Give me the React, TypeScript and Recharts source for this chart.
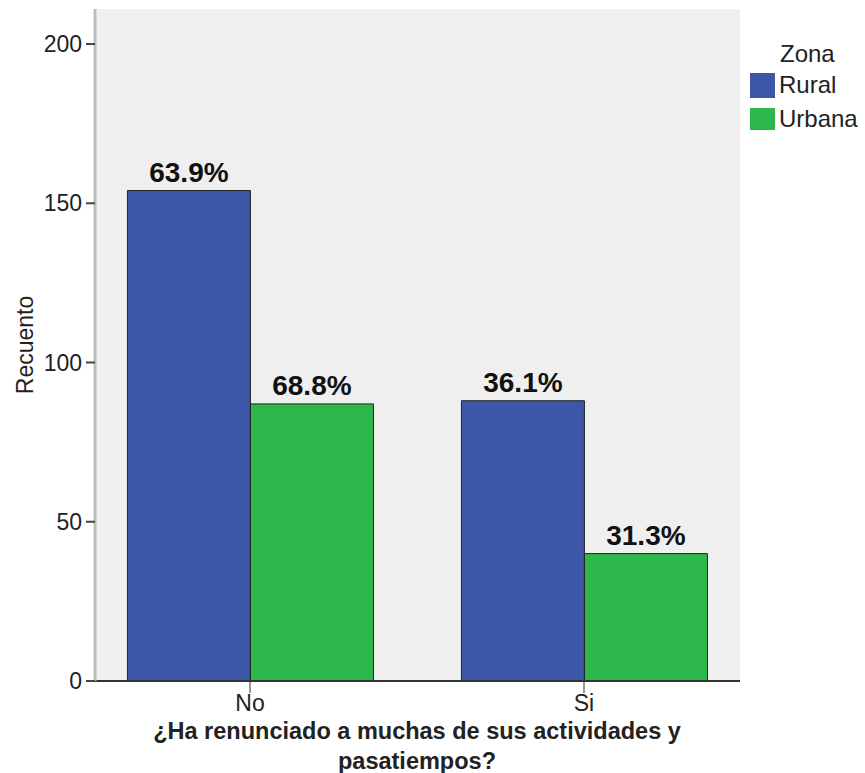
import { Bar, BarChart, CartesianGrid, LabelList, XAxis, YAxis } from "recharts"

const categories = ["No", "Si"]
const rural = [154, 88]
const urbana = [87, 40]
const ruralPct = ["63.9%", "36.1%"]
const urbanaPct = ["68.8%", "31.3%"]
const yTicks = [0, 50, 100, 150, 200]

const data = categories.map((cat, i) => ({
  cat,
  rural: rural[i],
  urbana: urbana[i],
  ruralPct: ruralPct[i],
  urbanaPct: urbanaPct[i],
}))

const font = "'Liberation Sans', Arial, sans-serif"
const blue = "#3D57A8"
const green = "#2DB84B"

export default function App() {
  return (
    <div style={{ position: "absolute", left: 0, top: 0, width: 865, height: 773, background: "#fff", fontFamily: font }}>
      <BarChart
        width={865}
        height={773}
        data={data}
        margin={{ top: 9, right: 125, left: 15, bottom: 62 }}
        barCategoryGap="13.3%"
        barGap={0}
      >
        <CartesianGrid fill="#EFEFEF" horizontal={false} vertical={false} />
        <XAxis
          dataKey="cat"
          height={30}
          padding={{ left: -12, right: -11 }}
          axisLine={{ stroke: "#333", strokeWidth: 2 }}
          tickLine={{ stroke: "#333" }}
          tickSize={12}
          tickMargin={2}
          tick={{ fill: "#222", fontSize: 23, fontFamily: font }}
        />
        <XAxis xAxisId="top" orientation="top" dataKey="cat" height={0} tick={false} tickLine={false} axisLine={{ stroke: "#666", strokeWidth: 2 }} />
        <YAxis
          width={80}
          domain={[0, 211]}
          ticks={yTicks}
          axisLine={{ stroke: "#BDBDBD", strokeWidth: 3 }}
          tickLine={{ stroke: "#444", strokeWidth: 2 }}
          tickSize={9}
          tickMargin={4}
          tick={{ fill: "#222", fontSize: 23, fontFamily: font }}
          label={{
            content: ({ viewBox }: any) => {
              const cy = viewBox.y + viewBox.height / 2
              return (
                <text x={33} y={cy} transform={`rotate(-90 33 ${cy})`} textAnchor="middle" fontSize={23} fill="#222" fontFamily={font}>
                  Recuento
                </text>
              )
            },
          }}
        />
        <YAxis yAxisId="right" orientation="right" width={0} tick={false} tickLine={false} axisLine={{ stroke: "#666", strokeWidth: 2 }} />
        <Bar dataKey="rural" fill={blue} stroke="#222" strokeWidth={1} isAnimationActive={false}>
          <LabelList dataKey="ruralPct" position="top" offset={9} fill="#111" fontSize={28} fontWeight="bold" fontFamily={font} />
        </Bar>
        <Bar dataKey="urbana" fill={green} stroke="#222" strokeWidth={1} isAnimationActive={false}>
          <LabelList dataKey="urbanaPct" position="top" offset={9} fill="#111" fontSize={28} fontWeight="bold" fontFamily={font} />
        </Bar>
      </BarChart>

      <div style={{ position: "absolute", left: 750, top: 40, fontSize: 24, color: "#222" }}>
        <div style={{ paddingLeft: 30, height: 28, lineHeight: "28px" }}>Zona</div>
        <div style={{ display: "flex", alignItems: "center", height: 34 }}>
          <span style={{ width: 25, height: 25, background: blue, marginRight: 4 }} />
          Rural
        </div>
        <div style={{ display: "flex", alignItems: "center", height: 34 }}>
          <span style={{ width: 25, height: 22, background: green, marginRight: 4 }} />
          Urbana
        </div>
      </div>

      <div
        style={{
          position: "absolute",
          left: 0,
          top: 716,
          width: 834,
          textAlign: "center",
          fontSize: 23.5,
          fontWeight: "bold",
          color: "#222",
          lineHeight: "30px",
        }}
      >
        ¿Ha renunciado a muchas de sus actividades y
        <br />
        pasatiempos?
      </div>
    </div>
  )
}
